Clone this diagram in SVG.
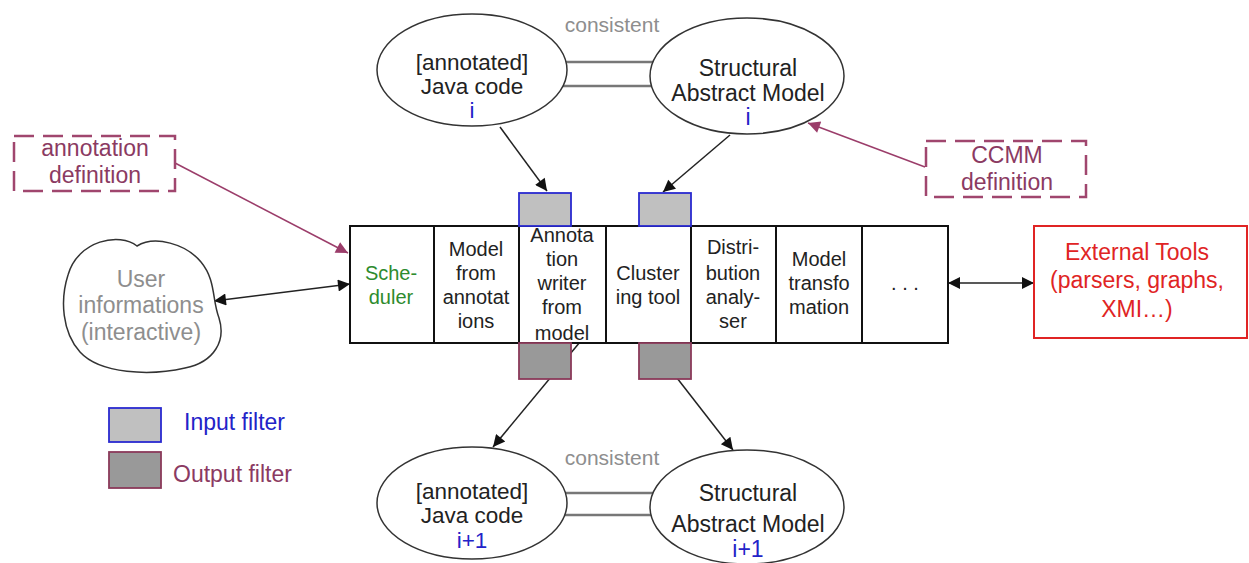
<svg xmlns="http://www.w3.org/2000/svg" width="1249" height="563" viewBox="0 0 1249 563">
<style>
text{font-family:"Liberation Sans",Arial,sans-serif;text-anchor:middle}
.big{font-size:23px;fill:#222}
.jv{font-size:22.5px}
.cell{font-size:20px;fill:#222}
.blue{fill:#2323c8}
.gray{fill:#8e8e8e}
.mar{fill:#8b3a62}
.red{fill:#e02424}
.ell{fill:#fff;stroke:#333;stroke-width:1.5}
.dash{fill:none;stroke:#a0466e;stroke-width:2.5;stroke-dasharray:20 9}
.in{fill:#c0c0c0;stroke:#2a2ad0;stroke-width:1.8}
.out{fill:#999;stroke:#8b3a5a;stroke-width:1.8}
.con{stroke:#222;stroke-width:1.5;fill:none}
.cmar{stroke:#9b3d6a;stroke-width:1.5;fill:none}
.dbl{stroke:#777;stroke-width:2.5;fill:none}
.cellr{fill:#fff;stroke:#111;stroke-width:2}
</style>
<defs>
<marker id="ahb" viewBox="0 0 10 10" refX="10" refY="5" markerWidth="17" markerHeight="12" markerUnits="userSpaceOnUse" orient="auto-start-reverse"><path d="M0,0 L10,5 L0,10 z" fill="#111"/></marker>
<marker id="ahm" viewBox="0 0 10 10" refX="10" refY="5" markerWidth="17" markerHeight="12" markerUnits="userSpaceOnUse" orient="auto"><path d="M0,0 L10,5 L0,10 z" fill="#9b3d6a"/></marker>
</defs>

<g id="connectors">
<line class="dbl" x1="563" y1="62" x2="655" y2="62"/>
<line class="dbl" x1="563" y1="86" x2="655" y2="86"/>
<line class="dbl" x1="563" y1="493" x2="655" y2="493"/>
<line class="dbl" x1="563" y1="515" x2="655" y2="515"/>
<line class="con" x1="500" y1="127" x2="547" y2="191" marker-end="url(#ahb)"/>
<line class="con" x1="730" y1="135" x2="663" y2="192" marker-end="url(#ahb)"/>
<line class="con" x1="580" y1="342" x2="493" y2="447" marker-end="url(#ahb)"/>
<line class="con" x1="677" y1="378" x2="733" y2="450" marker-end="url(#ahb)"/>
<line class="cmar" x1="175" y1="163" x2="348" y2="253" marker-end="url(#ahm)"/>
<line class="cmar" x1="925" y1="167" x2="808" y2="123" marker-end="url(#ahm)"/>
<line class="con" x1="214" y1="301" x2="350" y2="284" marker-start="url(#ahb)" marker-end="url(#ahb)"/>
<line class="con" x1="948" y1="283" x2="1034" y2="283" marker-start="url(#ahb)" marker-end="url(#ahb)"/>
</g>

<g id="consistent-top"><text class="gray" x="612" y="32" style="font-size:21px">consistent</text></g>
<g id="consistent-bottom"><text class="gray" x="612" y="465" style="font-size:21px">consistent</text></g>

<g id="java-i">
<ellipse class="ell" cx="472" cy="70" rx="95" ry="56"/>
<text class="big jv" x="472" y="70">[annotated]</text>
<text class="big jv" x="472" y="94">Java code</text>
<text class="big jv blue" x="472" y="118">i</text>
</g>
<g id="sam-i">
<ellipse class="ell" cx="747" cy="76" rx="97" ry="58"/>
<text class="big" x="748" y="76">Structural</text>
<text class="big" x="748" y="101">Abstract Model</text>
<text class="big blue" x="748" y="125">i</text>
</g>
<g id="java-i1">
<ellipse class="ell" cx="472" cy="503" rx="95" ry="56"/>
<text class="big jv" x="472" y="499">[annotated]</text>
<text class="big jv" x="472" y="523">Java code</text>
<text class="big jv blue" x="472" y="548">i+1</text>
</g>
<g id="sam-i1">
<ellipse class="ell" cx="747" cy="507" rx="97" ry="57"/>
<text class="big" x="748" y="501">Structural</text>
<text class="big" x="748" y="532">Abstract Model</text>
<text class="big blue" x="748" y="557">i+1</text>
</g>

<g id="annotation-definition">
<rect class="dash" x="14" y="136" width="161" height="55"/>
<text class="big mar" x="95" y="156">annotation</text>
<text class="big mar" x="95" y="183">definition</text>
</g>
<g id="ccmm-definition">
<rect class="dash" x="926" y="141" width="160" height="56"/>
<text class="big mar" x="1007" y="163">CCMM</text>
<text class="big mar" x="1007" y="190">definition</text>
</g>

<g id="user-info">
<path d="M137 246 C120 232 78 240 68 275 C60 300 62 332 80 352 C100 374 150 376 185 368 C215 362 226 340 219 318 C212 300 216 280 201 262 C186 244 155 235 137 246 Z" fill="#fff" stroke="#333" stroke-width="1.5"/>
<text class="big gray" x="141" y="287">User</text>
<text class="big gray" x="141" y="313">informations</text>
<text class="big gray" x="141" y="340">(interactive)</text>
</g>

<g id="external-tools">
<rect x="1034" y="226" width="213" height="112" fill="#fff" stroke="#e02424" stroke-width="2"/>
<text class="big red" x="1137" y="260">External Tools</text>
<text class="big red" x="1137" y="288">(parsers, graphs,</text>
<text class="big red" x="1137" y="317">XMI…)</text>
</g>

<g id="pipeline">
<rect class="cellr" x="350" y="226" width="84" height="117"/>
<rect class="cellr" x="434" y="226" width="85" height="117"/>
<rect class="cellr" x="519" y="226" width="87" height="117"/>
<rect class="cellr" x="606" y="226" width="85" height="117"/>
<rect class="cellr" x="691" y="226" width="85" height="117"/>
<rect class="cellr" x="776" y="226" width="86" height="117"/>
<rect class="cellr" x="862" y="226" width="86" height="117"/>
</g>
<g id="scheduler">
<text class="cell" x="391" y="280" style="fill:#2e8b2e">Sche-</text>
<text class="cell" x="391" y="304" style="fill:#2e8b2e">duler</text>
</g>
<g id="model-from-annotations">
<text class="cell" x="476" y="256">Model</text>
<text class="cell" x="476" y="280">from</text>
<text class="cell" x="476" y="304">annotat</text>
<text class="cell" x="476" y="328">ions</text>
</g>
<g id="annotation-writer">
<text class="cell" x="562" y="242">Annota</text>
<text class="cell" x="562" y="266">tion</text>
<text class="cell" x="562" y="290">writer</text>
<text class="cell" x="562" y="314">from</text>
<text class="cell" x="562" y="340">model</text>
</g>
<g id="clustering-tool">
<text class="cell" x="648" y="280">Cluster</text>
<text class="cell" x="648" y="304">ing tool</text>
</g>
<g id="distribution-analyser">
<text class="cell" x="733" y="254">Distri-</text>
<text class="cell" x="733" y="280">bution</text>
<text class="cell" x="733" y="304">analy-</text>
<text class="cell" x="733" y="328">ser</text>
</g>
<g id="model-transformation">
<text class="cell" x="819" y="266">Model</text>
<text class="cell" x="819" y="290">transfo</text>
<text class="cell" x="819" y="314">mation</text>
</g>
<g id="more"><text class="cell" x="905" y="290">. . .</text></g>

<g id="filters">
<rect class="in" x="519" y="193" width="52" height="33"/>
<rect class="in" x="639" y="193" width="52" height="33"/>
<rect class="out" x="519" y="343" width="52" height="36"/>
<rect class="out" x="639" y="343" width="52" height="36"/>
</g>

<g id="legend">
<rect class="in" x="109" y="408" width="52" height="34"/>
<text class="big blue" x="184" y="430" style="text-anchor:start">Input filter</text>
<rect class="out" x="109" y="452" width="52" height="36"/>
<text class="big mar" x="173" y="482" style="text-anchor:start">Output filter</text>
</g>
</svg>
